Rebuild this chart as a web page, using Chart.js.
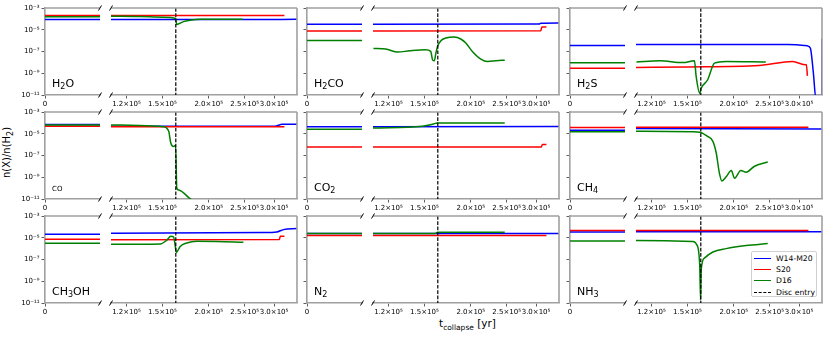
<!DOCTYPE html>
<html>
<head>
<meta charset="utf-8">
<script src="https://cdn.jsdelivr.net/npm/chart.js"></script>
<style>
body{margin:0;background:#fff;width:830px;height:338px;position:relative;overflow:hidden;font-family:"DejaVu Sans",sans-serif;color:#000}
canvas{position:absolute}
.lab{position:absolute;font-size:11px;line-height:11px;white-space:nowrap}
.lab.small{font-size:7px;line-height:7px}
.lab sub,.xt sub,.yt sub{font-size:8px;vertical-align:baseline;position:relative;top:2.5px}
.yt{position:absolute;left:-40px;top:146px;width:95px;text-align:center;font-size:10px;line-height:12px;transform:rotate(-90deg);white-space:nowrap}
.xt{position:absolute;left:420px;top:317px;width:95px;text-align:center;font-size:10.5px;line-height:12px;white-space:nowrap}
#legend{position:absolute;left:751px;top:251px;width:66px;height:46px;border:1px solid #d0d0d0;border-radius:2px;background:rgba(255,255,255,.85);box-sizing:border-box;padding-top:0.5px;font-size:7.7px}
#legend .row{height:11.4px;display:flex;align-items:center;white-space:nowrap}
#legend .sw{display:inline-block;width:17px;margin-left:2px;margin-right:5px;height:0}
</style>
</head>
<body>
<div class="yt">n(X)/n(H<sub>2</sub>)</div>
<div class="xt">t<sub style="font-size:7.5px">collapse</sub> [yr]</div>
<div id="legend"></div>
<script>
// series, axis ticks
const seriesNames = ['W14-M20', 'S20', 'D16'];
const seriesColors = ['#0000ff', '#ff0000', '#008000'];
const xTicks = [1.2e5, 1.5e5, 2.0e5, 2.5e5, 3.0e5];
const xTickLabels = ['1.2×10⁵', '1.5×10⁵', '2.0×10⁵', '2.5×10⁵', '3.0×10⁵'];
const yTicks = [1e-11, 1e-9, 1e-7, 1e-5, 1e-3];
const yTickLabels = ['10⁻¹¹', '10⁻⁹', '10⁻⁷', '10⁻⁵', '10⁻³'];
const discEntry = 1.63e5;
const xMin = 1.09e5, xMax = 3.46e5;

const species = ['H2O', 'H2CO', 'H2S', 'CO', 'CO2', 'CH4', 'CH3OH', 'N2', 'NH3'];
const speciesLabels = ['H<sub>2</sub>O', 'H<sub>2</sub>CO', 'H<sub>2</sub>S', 'CO', 'CO<sub>2</sub>', 'CH<sub>4</sub>',
  'CH<sub>3</sub>OH', 'N<sub>2</sub>', 'NH<sub>3</sub>'];

// abundance at t=0 (W14-M20, S20, D16), then [t, n(X)/n(H2)] for the collapse
const h2oStart = [8.7e-5, 2.0e-4, 1.6e-4];
const h2oW14 = [[1.09e5, 8.8e-5], [2.5e5, 8.8e-5], [3.46e5, 9.0e-5]];
const h2oS20 = [[1.09e5, 2.0e-4], [3.2e5, 2.0e-4]];
const h2oD16 = [[1.09e5, 1.75e-4], [1.3e5, 1.65e-4], [1.51e5, 1.42e-4], [1.63e5, 1.07e-4], [1.638e5, 3.0e-5],
  [1.71e5, 5.6e-5], [1.8e5, 8.0e-5], [1.9e5, 9.0e-5], [2.47e5, 9.0e-5]];

const h2coStart = [3.2e-5, 7.8e-6, 1.05e-6];
const h2coW14 = [[1.09e5, 3.2e-5], [3.06e5, 3.3e-5], [3.09e5, 4.0e-5], [3.46e5, 4.2e-5]];
const h2coS20 = [[1.09e5, 7.8e-6], [3.09e5, 8.0e-6], [3.11e5, 1.8e-5], [3.2e5, 1.8e-5]];
const h2coD16 = [[1.093e5, 1.9e-7], [1.18e5, 1.67e-7], [1.27e5, 8.8e-8], [1.37e5, 1.17e-7], [1.51e5, 1.45e-7],
  [1.56e5, 1.02e-7], [1.578e5, 1.7e-8], [1.595e5, 1.4e-8], [1.611e5, 7.1e-8], [1.628e5, 3.0e-7], [1.662e5, 9.9e-7],
  [1.714e5, 1.74e-6], [1.805e5, 2.15e-6], [1.88e5, 1.41e-6], [1.94e5, 6.0e-7], [2.02e5, 1.02e-7], [2.13e5, 2.0e-8],
  [2.22e5, 1.2e-8], [2.34e5, 1.39e-8], [2.47e5, 1.6e-8]];

const h2sStart = [3.6e-7, 2.9e-9, 9.1e-9];
const h2sW14 = [[1.09e5, 4.5e-7], [2.8e5, 4.3e-7], [3.16e5, 3.3e-7], [3.22e5, 2.0e-7], [3.28e5, 1.0e-9],
  [3.33e5, 5e-12], [3.455e5, 5e-12], [3.46e5, 1.5e-6]];
const h2sS20 = [[1.09e5, 3.4e-9], [1.5e5, 3.8e-9], [2.34e5, 5.1e-9], [2.88e5, 1.2e-8], [3.13e5, 5.9e-9],
  [3.14e5, 6.5e-9], [3.16e5, 5.7e-10]];
const h2sD16 = [[1.093e5, 1.1e-8], [1.263e5, 1.4e-8], [1.459e5, 9.5e-9], [1.567e5, 1.4e-8], [1.584e5, 4.9e-10],
  [1.619e5, 1.4e-11], [1.634e5, 4.2e-11], [1.70e5, 2.4e-10], [1.775e5, 8.5e-9], [1.908e5, 1.2e-8], [2.44e5, 1.1e-8]];

const coStart = [7.0e-5, 4.9e-5, 6.5e-5];
const coW14 = [[1.09e5, 4.9e-5], [3.02e5, 4.9e-5], [3.1e5, 6.5e-5], [3.15e5, 7.3e-5], [3.46e5, 7.3e-5]];
const coS20 = [[1.09e5, 4.5e-5], [3.2e5, 4.5e-5]];
const coD16 = [[1.09e5, 6.5e-5], [1.3e5, 5.8e-5], [1.51e5, 4.5e-5], [1.56e5, 1.7e-5], [1.58e5, 1.4e-6],
  [1.607e5, 6.9e-7], [1.628e5, 8.5e-7], [1.64e5, 1.0e-10], [1.66e5, 6.8e-11], [1.78e5, 1.1e-11], [1.85e5, 5e-12]];

const co2Start = [4.3e-5, 6.0e-7, 2.6e-5];
const co2W14 = [[1.09e5, 4.3e-5], [3.46e5, 4.6e-5]];
const co2S20 = [[1.09e5, 6.0e-7], [3.1e5, 6.0e-7], [3.12e5, 1.05e-6], [3.2e5, 1.05e-6]];
const co2D16 = [[1.09e5, 3.4e-5], [1.48e5, 5.0e-5], [1.578e5, 7.5e-5], [1.628e5, 1.0e-4], [2.47e5, 1.0e-4]];

const ch4Start = [2.1e-5, 3.7e-5, 1.5e-5];
const ch4W14 = [[1.09e5, 3.0e-5], [3.46e5, 2.8e-5]];
const ch4S20 = [[1.09e5, 4.0e-5], [3.18e5, 4.0e-5]];
const ch4D16 = [[1.09e5, 1.7e-5], [1.55e5, 1.55e-5], [1.619e5, 1.4e-5], [1.70e5, 5.8e-6], [1.757e5, 2.0e-6],
  [1.794e5, 1.7e-7], [1.83e5, 2.3e-9], [1.858e5, 4.6e-10], [1.908e5, 1.1e-9], [1.97e5, 4.2e-9], [2.01e5, 8.1e-10],
  [2.09e5, 4.2e-9], [2.16e5, 2.9e-9], [2.27e5, 9.8e-9], [2.47e5, 2.5e-8]];

const ch3ohStart = [2.1e-5, 7.2e-6, 3.1e-6];
const ch3ohW14 = [[1.09e5, 2.6e-5], [2.8e5, 3.0e-5], [3.05e5, 3.4e-5], [3.18e5, 5.6e-5], [3.46e5, 7.0e-5]];
const ch3ohS20 = [[1.09e5, 6.6e-6], [3.1e5, 6.8e-6], [3.12e5, 1.36e-5], [3.2e5, 1.36e-5]];
const ch3ohD16 = [[1.09e5, 2.5e-6], [1.48e5, 2.7e-6], [1.54e5, 5.8e-6], [1.58e5, 1.36e-5], [1.607e5, 1.2e-5],
  [1.625e5, 1.6e-6], [1.635e5, 4.5e-7], [1.675e5, 1.6e-6], [1.745e5, 3.3e-6], [1.858e5, 4.7e-6], [2.1e5, 4.6e-6],
  [2.48e5, 3.8e-6]];

const n2Start = [2.4e-5, 1.6e-5, 2.4e-5];
const n2W14 = [[1.09e5, 2.4e-5], [3.46e5, 2.4e-5]];
const n2S20 = [[1.09e5, 1.6e-5], [3.2e5, 1.6e-5]];
const n2D16 = [[1.09e5, 2.4e-5], [1.6e5, 2.4e-5], [1.63e5, 3.2e-5], [2.47e5, 3.2e-5]];

const nh3Start = [3.4e-5, 4.6e-5, 5.0e-6];
const nh3W14 = [[1.09e5, 3.5e-5], [3.46e5, 3.5e-5]];
const nh3S20 = [[1.09e5, 4.6e-5], [3.18e5, 4.6e-5]];
const nh3D16 = [[1.09e5, 5.7e-6], [1.552e5, 4.6e-6], [1.59e5, 2.3e-6], [1.619e5, 3.3e-8], [1.628e5, 1.9e-11],
  [1.634e5, 1.1e-8], [1.667e5, 1.35e-7], [1.757e5, 4.9e-7], [1.908e5, 1.0e-6], [2.16e5, 1.9e-6], [2.47e5, 2.9e-6]];

const starts = [h2oStart, h2coStart, h2sStart, coStart, co2Start, ch4Start, ch3ohStart, n2Start, nh3Start];
const runs = [
  [h2oW14, h2oS20, h2oD16], [h2coW14, h2coS20, h2coD16], [h2sW14, h2sS20, h2sD16],
  [coW14, coS20, coD16], [co2W14, co2S20, co2D16], [ch4W14, ch4S20, ch4D16],
  [ch3ohW14, ch3ohS20, ch3ohD16], [n2W14, n2S20, n2D16], [nh3W14, nh3S20, nh3D16]
];

// layout (pixels)
const ML = 40, MR = 8, MT = 6, MB = 22;
const colLefts = [45, 307, 570], rowTops = [8, 112, 216];
const PH = 87, LW = 55, RW = 186, GAP = 11;
const SPINE = '#a0a0a0';
const tickFont = { family: 'DejaVu Sans', size: 7 };

const framePlugin = {
  id: 'frame',
  afterDatasetsDraw(chart, args, opts) {
    const { ctx, chartArea: a, scales } = chart;
    ctx.save();
    if (opts.disc) {
      const x = scales.x.getPixelForValue(discEntry);
      ctx.strokeStyle = '#000'; ctx.lineWidth = 1.2; ctx.setLineDash([3.7, 1.6]);
      ctx.beginPath(); ctx.moveTo(x, a.top); ctx.lineTo(x, a.bottom); ctx.stroke();
      ctx.setLineDash([]);
    }
    ctx.strokeStyle = SPINE; ctx.lineWidth = 1.6;
    ctx.beginPath();
    ctx.moveTo(a.left, a.top); ctx.lineTo(a.right, a.top);
    if (opts.side === 'right') { ctx.moveTo(a.right, a.top); ctx.lineTo(a.right, a.bottom); }
    ctx.stroke();
    // diagonal break marks
    const bx = opts.side === 'left' ? a.right : a.left;
    ctx.strokeStyle = '#000'; ctx.lineWidth = 1;
    for (const by of [a.top, a.bottom]) {
      ctx.beginPath(); ctx.moveTo(bx - 1.5, by + 2.5); ctx.lineTo(bx + 1.5, by - 2.5); ctx.stroke();
    }
    ctx.restore();
  }
};

function makeChart(left, top, w, side, datasets, showYLabels) {
  const cv = document.createElement('canvas');
  cv.width = w + ML + MR; cv.height = PH + MT + MB;
  cv.style.left = (left - ML) + 'px'; cv.style.top = (top - MT) + 'px';
  document.body.appendChild(cv);
  const isLeft = side === 'left';
  const xAxis = {
    grid: { drawOnChartArea: false, drawTicks: true, tickLength: 3.5, tickColor: '#333', tickWidth: 0.8 },
    border: { display: true, color: SPINE, width: 1.6 },
    ticks: { font: tickFont, color: '#000', padding: 1, maxRotation: 0, autoSkip: false },
    afterFit: s => { s.height = MB; s.paddingLeft = 0; s.paddingRight = 0; }
  };
  if (isLeft) {
    Object.assign(xAxis, { type: 'linear', min: 0, max: 1 });
    xAxis.afterBuildTicks = s => { s.ticks = [{ value: 0 }]; };
    xAxis.ticks.callback = () => '0';
  } else {
    Object.assign(xAxis, { type: 'logarithmic', min: xMin, max: xMax });
    xAxis.afterBuildTicks = s => { s.ticks = xTicks.map(v => ({ value: v })); };
    xAxis.ticks.callback = v => xTickLabels[xTicks.indexOf(v)];
  }
  new Chart(cv, {
    type: 'line',
    data: { datasets },
    options: {
      responsive: false, animation: false, devicePixelRatio: 1,
      layout: { padding: { left: 0, right: MR, top: MT, bottom: 0 } },
      plugins: { legend: { display: false }, tooltip: { enabled: false }, frame: { side, disc: !isLeft } },
      elements: { point: { radius: 0 }, line: { borderWidth: 1.5, cubicInterpolationMode: 'monotone' } },
      scales: {
        x: xAxis,
        y: {
          type: 'logarithmic', min: 1e-11, max: 1e-3,
          grid: { display: isLeft, drawOnChartArea: false, drawTicks: isLeft, tickLength: 3.5, tickColor: '#333', tickWidth: 0.8 },
          border: { display: isLeft, color: SPINE, width: 1.6 },
          ticks: { display: showYLabels, font: tickFont, color: '#000', padding: 2,
            callback: v => yTickLabels[yTicks.indexOf(v)] },
          afterBuildTicks: s => { s.ticks = yTicks.map(v => ({ value: v })); },
          afterFit: s => { s.width = ML; s.paddingTop = 0; s.paddingBottom = 0; }
        }
      }
    },
    plugins: [framePlugin]
  });
}

species.forEach((sp, i) => {
  const r = Math.floor(i / 3), c = i % 3;
  const top = rowTops[r], left = colLefts[c];
  const startSets = seriesNames.map((name, k) => ({
    label: name, borderColor: seriesColors[k], order: 3 - k,
    data: [{ x: 0, y: starts[i][k] }, { x: 1, y: starts[i][k] }]
  }));
  const runSets = seriesNames.map((name, k) => ({
    label: name, borderColor: seriesColors[k], order: 3 - k,
    data: runs[i][k].map(p => ({ x: p[0], y: p[1] }))
  }));
  makeChart(left, top, LW, 'left', startSets, c === 0);
  makeChart(left + LW + GAP, top, RW, 'right', runSets, false);

  const lab = document.createElement('div');
  const small = sp === 'CO';
  lab.className = small ? 'lab small' : 'lab';
  lab.innerHTML = speciesLabels[i];
  lab.style.left = (left + 7) + 'px';
  lab.style.top = (top + PH - (small ? 13.2 : 17.3)) + 'px';
  document.body.appendChild(lab);
});

// legend
const legend = document.getElementById('legend');
seriesNames.forEach((name, k) => {
  legend.insertAdjacentHTML('beforeend',
    `<div class="row"><span class="sw" style="border-top:1.5px solid ${seriesColors[k]}"></span>${name}</div>`);
});
legend.insertAdjacentHTML('beforeend',
  '<div class="row"><span class="sw" style="border-top:1.5px dashed #000"></span>Disc entry</div>');
</script>
</body>
</html>
